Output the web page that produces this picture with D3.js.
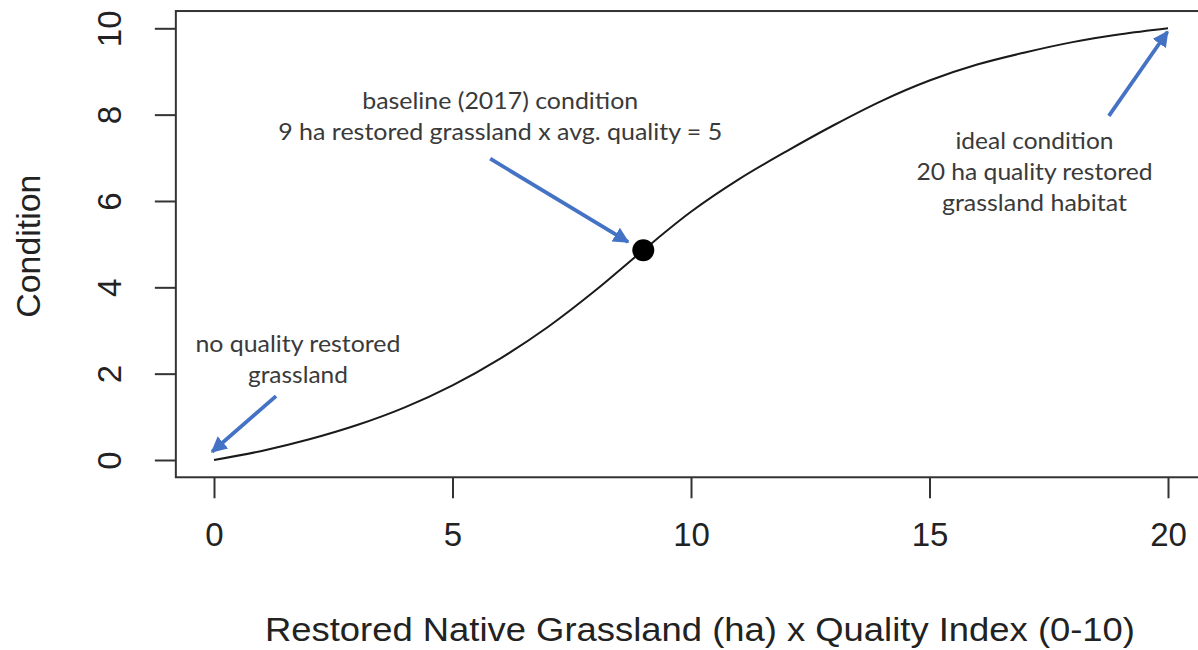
<!DOCTYPE html>
<html>
<head>
<meta charset="utf-8">
<script src="https://cdn.jsdelivr.net/npm/d3@7"></script>
<style>
  html, body { margin: 0; padding: 0; background: #fff; }
  svg { display: block; }
</style>
</head>
<body>
<svg id="chart" width="1198" height="650"></svg>
<script>
// ---- data ----
const curveX = [0, 1, 2, 3, 4, 5, 6, 7, 8, 9, 10, 11, 12, 13, 14, 15, 16, 17, 18, 19, 20];
const curveY = [0, 0.21, 0.48, 0.81, 1.22, 1.73, 2.35, 3.08, 3.93, 4.86, 5.75, 6.50, 7.15, 7.76, 8.32, 8.79, 9.16, 9.44, 9.68, 9.86, 10];
const baselinePoint = [9, 4.86];
const xTicks = [0, 5, 10, 15, 20];
const yTicks = [0, 2, 4, 6, 8, 10];
const xTitle = "Restored Native Grassland (ha) x Quality Index (0-10)";
const yTitle = "Condition";
const noteNone = ["no quality restored", "grassland"];
const noteBase = ["baseline (2017) condition", "9 ha restored grassland x avg. quality = 5"];
const noteIdeal = ["ideal condition", "20 ha quality restored", "grassland habitat"];
// annotation anchors in data units: [text x, first baseline y]
const noteNoneAt = [1.76, 2.5];
const noteBaseAt = [6.0, 8.13];
const noteIdealAt = [17.2, 7.2];
// arrows in data units: [tailX, tailY, tipX, tipY]
const arrows = [
  [1.30, 1.48, -0.04, 0.19],
  [5.79, 6.98, 8.68, 5.05],
  [18.76, 7.97, 19.99, 9.92]
];

// ---- scales ----
const svg = d3.select("#chart");
const x = d3.scaleLinear().domain([0, 20]).range([214, 1168]);
const y = d3.scaleLinear().domain([0, 10]).range([460, 28.3]);
const xPad = 0.8, yPad = 0.4;
const axisColor = "#333";
const tickFont = "'Liberation Sans', Arial, sans-serif";
const noteFont = "Lato, 'Open Sans', sans-serif";
const noteColor = "#3a3a3a";
const blue = "#4472C4";

// plot box
svg.append("rect")
  .attr("x", x(-xPad)).attr("y", y(10 + yPad))
  .attr("width", x(20 + xPad) - x(-xPad))
  .attr("height", y(-yPad) - y(10 + yPad))
  .attr("fill", "none").attr("stroke", axisColor).attr("stroke-width", 2);

// x axis
const xAxis = d3.axisBottom(x).tickValues(xTicks).tickSize(21).tickPadding(24).tickFormat(d3.format("d"));
const gx = svg.append("g").attr("transform", `translate(0,${y(-yPad)})`).call(xAxis);
gx.select(".domain").remove();
gx.selectAll(".tick line").attr("stroke", axisColor).attr("stroke-width", 2);
gx.selectAll(".tick text").attr("font-family", tickFont).attr("font-size", 33).attr("fill", "#222");

// y axis
const yAxis = d3.axisLeft(y).tickValues(yTicks).tickSize(21).tickPadding(0).tickFormat(d3.format("d"));
const gy = svg.append("g").attr("transform", `translate(${x(-xPad)},0)`).call(yAxis);
gy.select(".domain").remove();
gy.selectAll(".tick line").attr("stroke", axisColor).attr("stroke-width", 2);
gy.selectAll(".tick text")
  .attr("font-family", tickFont).attr("font-size", 33).attr("fill", "#222")
  .attr("x", null).attr("dy", null)
  .attr("text-anchor", "middle")
  .attr("transform", "translate(-55,0) rotate(-90)");

// axis titles
svg.append("text")
  .attr("x", (x(0) + x(20)) / 2 + 9).attr("y", 641)
  .attr("text-anchor", "middle")
  .attr("font-family", tickFont).attr("font-size", 34).attr("fill", "#222")
  .attr("textLength", 870).attr("lengthAdjust", "spacingAndGlyphs")
  .text(xTitle);
svg.append("text")
  .attr("transform", `translate(40,${(y(0) + y(10)) / 2 + 2}) rotate(-90)`)
  .attr("text-anchor", "middle")
  .attr("font-family", tickFont).attr("font-size", 33).attr("fill", "#222")
  .attr("textLength", 143).attr("lengthAdjust", "spacingAndGlyphs")
  .text(yTitle);

// curve
const pts = curveX.map((d, i) => [d, curveY[i]]);
svg.append("path")
  .datum(pts)
  .attr("fill", "none").attr("stroke", "#1a1a1a").attr("stroke-width", 2)
  .attr("d", d3.line().x(d => x(d[0])).y(d => y(d[1])).curve(d3.curveCatmullRom.alpha(0.5)));

// baseline point
svg.append("circle")
  .attr("cx", x(baselinePoint[0])).attr("cy", y(baselinePoint[1]))
  .attr("r", 11).attr("fill", "#000");

// annotations
function note(lines, at, widths) {
  const t = svg.append("text")
    .attr("text-anchor", "middle")
    .attr("font-family", noteFont).attr("font-size", 23).attr("fill", noteColor);
  lines.forEach((s, i) => {
    t.append("tspan")
      .attr("x", x(at[0])).attr("y", y(at[1]) + i * 31)
      .attr("textLength", widths[i]).attr("lengthAdjust", "spacingAndGlyphs")
      .text(s);
  });
}
note(noteNone, noteNoneAt, [205, 100]);
note(noteBase, noteBaseAt, [276, 444]);
note(noteIdeal, noteIdealAt, [158, 236, 185]);

// arrows
const defs = svg.append("defs");
defs.append("marker")
  .attr("id", "head").attr("viewBox", "0 0 10 10")
  .attr("refX", 9).attr("refY", 5)
  .attr("markerWidth", 4.2).attr("markerHeight", 4.2)
  .attr("markerUnits", "strokeWidth")
  .attr("orient", "auto")
  .append("path").attr("d", "M0,0 L10,5 L0,10 z").attr("fill", blue);
svg.selectAll("line.arrow").data(arrows).enter().append("line")
  .attr("class", "arrow")
  .attr("x1", d => x(d[0])).attr("y1", d => y(d[1]))
  .attr("x2", d => x(d[2])).attr("y2", d => y(d[3]))
  .attr("stroke", blue).attr("stroke-width", 3.8)
  .attr("marker-end", "url(#head)");
</script>
</body>
</html>
